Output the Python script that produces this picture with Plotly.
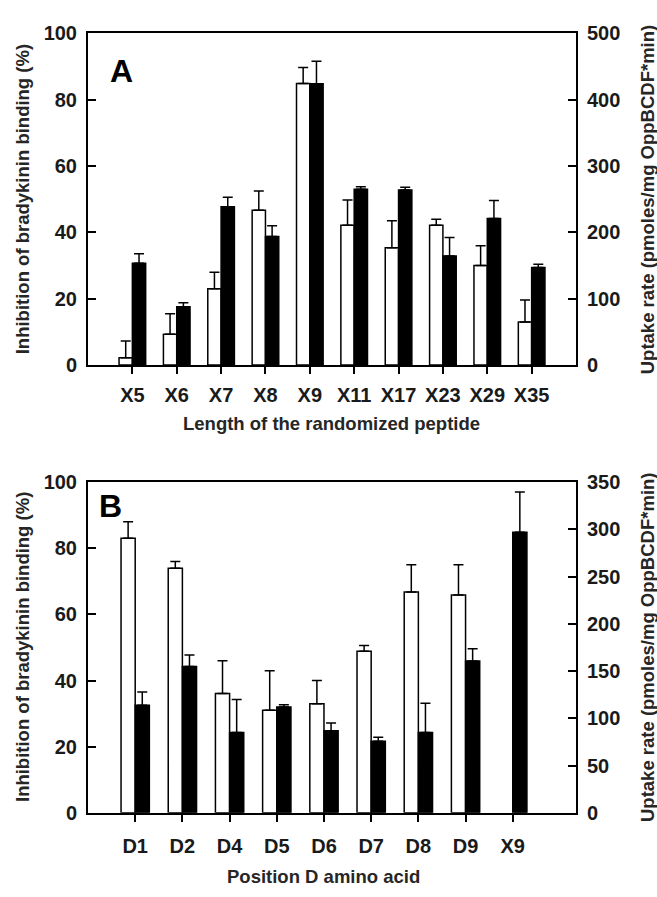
import plotly.graph_objects as go

# ---------------- data ----------------
cats_a = ["X5", "X6", "X7", "X8", "X9", "X11", "X17", "X23", "X29", "X35"]
bind_a = [2.2, 9.3, 23.0, 46.7, 84.9, 42.2, 35.4, 42.2, 30.0, 13.0]
bind_a_err = [5.1, 6.2, 5.0, 5.8, 4.8, 7.6, 8.1, 1.8, 6.0, 6.6]
uptake_a = [153.5, 88, 238.6, 194, 424, 265, 264, 164.5, 221, 147]
uptake_a_err = [14.5, 6, 14.4, 16, 34, 4, 4, 28, 27, 5]

cats_b = ["D1", "D2", "D4", "D5", "D6", "D7", "D8", "D9", "X9"]
bind_b = [83, 74, 36.1, 31, 33, 48.9, 66.8, 65.9, None]
bind_b_err = [5, 2, 9.9, 12, 7, 1.7, 8.2, 9.1, None]
uptake_b = [114, 155, 85, 112, 87, 75.7, 85, 160.7, 297]
uptake_b_err = [14, 12, 35, 2.5, 8, 4.3, 31, 13, 42.6]

left_ticks = [0, 20, 40, 60, 80, 100]
right_ticks_a = [0, 100, 200, 300, 400, 500]
right_ticks_b = [0, 50, 100, 150, 200, 250, 300, 350]

# ---------------- style ----------------
W, H = 657, 897
FONT = "Liberation Sans, Arial, sans-serif"
TXT = "#1a1a1a"
TICKF = dict(family=FONT, size=20, color=TXT, weight="bold")
TITLEF = dict(family=FONT, size=18.5, color="#262626")
BW = 0.3


def px_x(p):
    return p / W


def px_y(p):
    return 1 - p / H


def err(vals):
    return dict(type="data", symmetric=False, array=vals,
                arrayminus=[0] * len(vals), color="black", thickness=1.5, width=5)


fig = go.Figure()

# Panel A
fig.add_trace(go.Bar(x=list(range(len(cats_a))), y=bind_a, width=BW, offset=-BW,
                     marker=dict(color="white", line=dict(color="black", width=1.5)),
                     error_y=err(bind_a_err), xaxis="x", yaxis="y", showlegend=False))
fig.add_trace(go.Bar(x=list(range(len(cats_a))), y=uptake_a, width=BW, offset=0,
                     marker=dict(color="black", line=dict(color="black", width=1.5)),
                     error_y=err(uptake_a_err), xaxis="x", yaxis="y2", showlegend=False))
# Panel B
fig.add_trace(go.Bar(x=list(range(len(cats_b))), y=bind_b, width=BW, offset=-BW,
                     marker=dict(color="white", line=dict(color="black", width=1.5)),
                     error_y=err([e if e is not None else 0 for e in bind_b_err]),
                     xaxis="x2", yaxis="y3", showlegend=False))
fig.add_trace(go.Bar(x=list(range(len(cats_b))), y=uptake_b, width=BW, offset=0,
                     marker=dict(color="black", line=dict(color="black", width=1.5)),
                     error_y=err(uptake_b_err), xaxis="x2", yaxis="y4", showlegend=False))

xdom = [px_x(88), px_x(576)]
ya_dom = [px_y(363), px_y(23)]
yb_dom = [px_y(822), px_y(483)]

xcommon = dict(showline=True, linecolor="black", linewidth=2, mirror=True,
               ticks="outside", ticklen=7, tickwidth=2, tickcolor="black",
               showgrid=False, zeroline=False, tickfont=TICKF,
               tickmode="array")
ycommon = dict(showline=True, linecolor="black", linewidth=2,
               ticks="inside", ticklen=8, tickwidth=2, tickcolor="black",
               showgrid=False, zeroline=False, tickfont=TICKF, ticklabelstandoff=5,
               tickmode="array")

fig.update_layout(
    width=W, height=H,
    margin=dict(l=0, r=0, t=0, b=0),
    paper_bgcolor="white", plot_bgcolor="white",
    barmode="overlay",
    xaxis=dict(domain=xdom, anchor="y", range=[-1, 10], ticklabelstandoff=4,
               tickvals=list(range(len(cats_a))), ticktext=cats_a, **xcommon),
    yaxis=dict(domain=ya_dom, anchor="x", range=[0, 100], tickvals=left_ticks, **ycommon),
    yaxis2=dict(overlaying="y", side="right", anchor="x", range=[0, 500],
                tickvals=right_ticks_a, **ycommon),
    xaxis2=dict(domain=xdom, anchor="y3", range=[-1, 9.34], ticklabelstandoff=7,
                tickvals=list(range(len(cats_b))), ticktext=cats_b, **xcommon),
    yaxis3=dict(domain=yb_dom, anchor="x2", range=[0, 100], tickvals=left_ticks, **ycommon),
    yaxis4=dict(overlaying="y3", side="right", anchor="x2", range=[0, 350],
                tickvals=right_ticks_b, **ycommon),
)

ann = []
# panel letters
ann.append(dict(text="<b>A</b>", x=px_x(121), y=px_y(61), xref="paper", yref="paper",
                xanchor="center", yanchor="middle",
                showarrow=False, font=dict(family=FONT, size=32, color="black")))
ann.append(dict(text="<b>B</b>", x=px_x(110), y=px_y(507), xref="paper", yref="paper",
                xanchor="center", yanchor="middle",
                showarrow=False, font=dict(family=FONT, size=32, color="black")))
# y titles
for yc in (193, 652):
    ann.append(dict(text="<b>Inhibition of bradykinin binding (%)</b>", textangle=-90,
                    x=px_x(22), y=px_y(yc), xref="paper", yref="paper",
                    xanchor="center", yanchor="middle", showarrow=False, font=TITLEF))
    ann.append(dict(text="<b>Uptake rate (pmoles/mg OppBCDF*min)</b>", textangle=-90,
                    x=px_x(647), y=px_y(yc), xref="paper", yref="paper",
                    xanchor="center", yanchor="middle", showarrow=False, font=TITLEF))
# x titles
ann.append(dict(text="<b>Length of the randomized peptide</b>", x=px_x(331), y=px_y(423),
                xref="paper", yref="paper", xanchor="center", yanchor="middle",
                showarrow=False, font=TITLEF))
ann.append(dict(text="<b>Position D amino acid</b>", x=px_x(323), y=px_y(887),
                xref="paper", yref="paper", xanchor="center", yanchor="middle",
                showarrow=False, font=TITLEF))
fig.update_layout(annotations=ann)

fig.write_html("out.html")
